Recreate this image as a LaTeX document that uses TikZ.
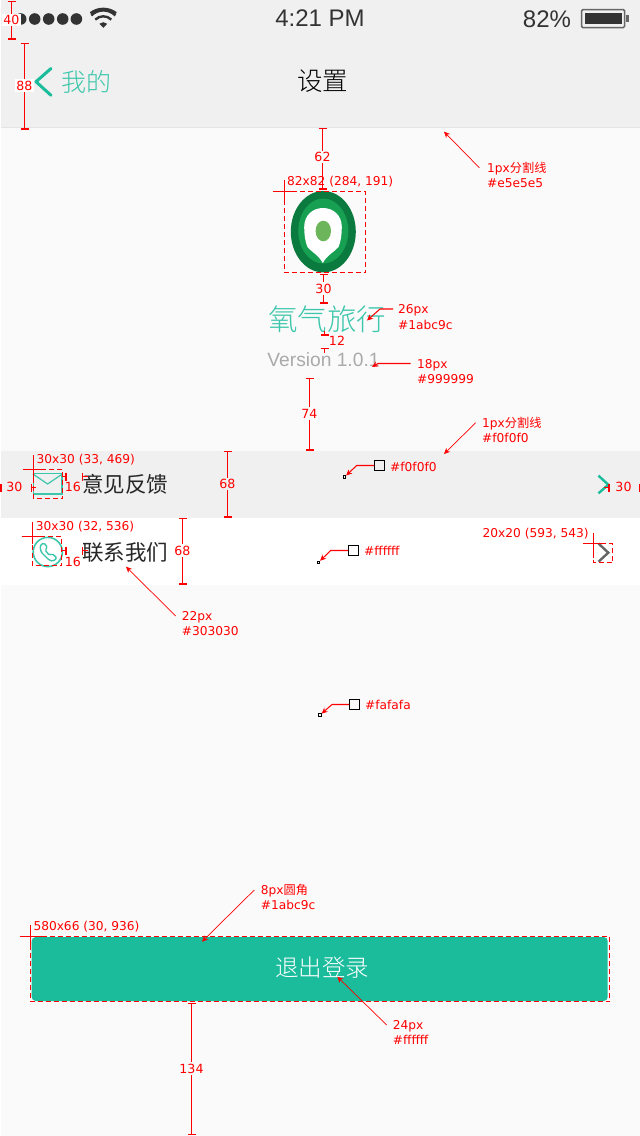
\documentclass[tikz,border=0pt]{standalone}
\usepackage{fontspec}
\usetikzlibrary{arrows.meta}
\setmainfont{DejaVu Sans}
\newfontfamily\cjk{Noto Sans CJK SC}
\newfontfamily\cjklight{Noto Sans CJK SC Light}
\newfontfamily\ui{Liberation Sans}
\definecolor{redm}{HTML}{FF0000}
\definecolor{teal}{HTML}{1ABC9C}
\definecolor{barbg}{HTML}{F0F0F0}
\definecolor{pagebg}{HTML}{FAFAFA}
\definecolor{dark}{HTML}{333333}
\definecolor{logoa}{HTML}{0B7A3E}
\definecolor{logob}{HTML}{18A052}
\definecolor{logoc}{HTML}{6DB55A}
\tikzset{
  x=1pt,y=-1pt,
  note/.style={text=redm,font=\fontsize{12.2}{13}\selectfont,anchor=west,inner sep=0pt},
  dimlabel/.style={text=redm,font=\fontsize{12.6}{13}\selectfont,inner sep=1.5pt},
  dimline/.style={draw=redm,line width=1.05pt,{Bar[width=8pt,line width=1.05pt]}-{Bar[width=8pt,line width=1.05pt]}},
  halfdim/.style={draw=redm,line width=1.05pt,{Bar[width=8pt,line width=1.05pt]}-},
  cross/.style={draw=redm,line width=1.05pt},
  dashbox/.style={draw=redm,line width=1.05pt,dash pattern=on 5pt off 3pt},
  callout/.style={draw=redm,line width=0.7pt,-{Stealth[length=6pt,width=5.5pt]}},
  pickline/.style={draw=redm,line width=1.05pt,-{Stealth[length=6pt,width=5.5pt]}},
  swatch/.style={draw=black,line width=1pt,minimum size=10.5pt,inner sep=0pt},
  pixel/.style={draw=black,line width=0.7pt,minimum size=2.5pt,inner sep=0pt},
  uitext/.style={inner sep=0pt},
}
% \dimv{name}{x}{y1}{y2}{label}{label y}{background}
\newcommand{\dimv}[7]{%
  \coordinate (#1a) at (#2,#3);
  \coordinate (#1b) at (#2,#4);
  \draw[dimline] (#1a) -- (#1b);
  \node[dimlabel,fill=#7] (#1) at (#2,#6) {#5};
}
\begin{document}
\begin{tikzpicture}
\useasboundingbox (0,0) rectangle (640,1136);
% backgrounds
\fill[pagebg] (0,0) rectangle (640,1136);
\fill[barbg] (0,0) rectangle (640,127);
\fill[black!5!barbg] (0,127) rectangle (640,128);
\fill[barbg] (0,451) rectangle (640,517.5);
\fill[white] (0,517.5) rectangle (640,585);
\fill[white] (0,0) rectangle (1,1136);
% status bar
\foreach \i/\cx in {1/20.7,2/34.7,3/48.7,4/62.7,5/76.4}
  \fill[dark] (\cx,19) circle (5.8);
\node[uitext,text=dark,font=\ui\fontsize{24}{24}\selectfont] (time) at (320,18.5) {4:21 PM};
\node[uitext,text=dark,font=\ui\fontsize{24}{24}\selectfont] (batt) at (547,19) {82\%};
\begin{scope}[dark]
  \fill (103.3,27.8) -- (99.4,23.8) arc[start angle=225,end angle=315,radius=5.5] -- cycle;
  \draw[line width=2.4pt] (95.3,19.6) arc[start angle=225,end angle=315,radius=11.3];
  \draw[line width=2.4pt] (91.3,15.4) arc[start angle=225,end angle=315,radius=17];
  \draw[line width=2.4pt] (90.5,13.2) .. controls (98,7.4) and (108.6,7.4) .. (116.1,13.2);
\end{scope}
\draw[draw=black!60,line width=1.5pt,rounded corners=1.5pt] (581.5,9.5) rectangle (624.7,27.7);
\fill[dark] (585,12.7) rectangle (621.7,24.3);
\fill[black!60] (625.5,15) rectangle (629.3,21.7);
% nav bar
\draw[teal,line width=3pt,line cap=round,line join=round] (51,68.5) -- (36,81.7) -- (51,95.3);
\node[uitext,text=teal!85,font=\cjklight\fontsize{25}{25}\selectfont] (back) at (86.7,81.5) {我的};
\node[uitext,text=black,font=\cjklight\fontsize{25.5}{26}\selectfont] (title) at (322.7,81.5) {设置};
% logo
\fill[logoa] (323.3,231.7) ellipse[x radius=32.5,y radius=40.7];
\fill[logob] (323.3,231) ellipse[x radius=25,y radius=32.5];
\fill[white] (322.8,263) .. controls (318.5,255) and (311,251.5) .. (307.5,247)
   .. controls (305,241) and (304.2,234) .. (304.2,227)
   .. controls (304.2,215) and (313,208) .. (323,208)
   .. controls (333,208) and (341.8,215) .. (341.8,227)
   .. controls (341.8,234) and (341,241) .. (338.5,247)
   .. controls (335,251.5) and (327,255) .. cycle;
\fill[logoc] (323.3,231) ellipse[x radius=7.7,y radius=10.3];
\node[uitext,text=teal!85,font=\cjklight\fontsize{29.5}{30}\selectfont] (appname) at (327,319) {氧气旅行};
\node[uitext,text={rgb,255:red,170;green,170;blue,170},font=\ui\fontsize{19.2}{20}\selectfont] (version) at (323.5,359.5) {Version 1.0.1};
% row text
\node[uitext,text=black!85,font=\cjk\fontsize{21.5}{22}\selectfont] (row1) at (125,484) {意见反馈};
\node[uitext,text=black!85,font=\cjk\fontsize{21.5}{22}\selectfont] (row2) at (125,552) {联系我们};
% icons
\draw[teal!85,line width=1.6pt] (33.3,473.6) rectangle (62,494);
\draw[teal!85,line width=1.2pt] (33,474) -- (47.6,484) -- (62.3,474);
\draw[teal!85,line width=1.6pt] (47.8,552) circle (14.6);
\draw[teal!85,line width=1.4pt,rounded corners=1.5pt] (44,542.8) -- (40,545.5) -- (41,552) -- (49,560) -- (53,561.3) -- (57,558) -- (52,553.5) -- (49.5,555.5) -- (45,550) -- (47.5,547.5) -- cycle;
\draw[teal,line width=2.4pt] (598.5,475.7) -- (608.3,484.7) -- (598.5,493.3);
\draw[black!60,line width=2.4pt] (598.5,543.5) -- (608.3,552.7) -- (598.5,561.7);
% button
\node[fill=teal,rounded corners=4pt,minimum width=576pt,minimum height=64pt,inner sep=0pt] (button) at (319.7,969) {};
\node[uitext,text=white,font=\cjklight\fontsize{23.5}{24}\selectfont] (btntext) at (322,968) {退出登录};
% measured boxes
\draw[dashbox] (284.5,191.5) rectangle (365.5,272.5);
\draw[dashbox] (33.5,469.5) rectangle (62.5,498.5);
\draw[dashbox] (32.5,536.5) rectangle (61.5,565.5);
\draw[dashbox] (593.5,543.5) rectangle (612.5,562.5);
\draw[dashbox] (30.5,936.5) rectangle (609.5,1001.5);
% crosshairs
\draw[cross] (273,191.5) -- (295,191.5) (284.5,180) -- (284.5,202);
\draw[cross] (22.5,469.5) -- (44,469.5) (33.5,455) -- (33.5,478);
\draw[cross] (21.5,536.5) -- (43,536.5) (32.5,521.5) -- (32.5,544);
\draw[cross] (582.5,543.5) -- (604,543.5) (593.5,532.5) -- (593.5,558);
\draw[cross] (19.5,936.5) -- (45,936.5) (30.5,925) -- (30.5,948);
% size notes
\node[note] (s1) at (287,182) {82x82 (284, 191)};
\node[note] (s2) at (36.5,459.5) {30x30 (33, 469)};
\node[note] (s3) at (35.7,526.7) {30x30 (32, 536)};
\node[note] (s4) at (482.5,533.7) {20x20 (593, 543)};
\node[note] (s5) at (33.3,926.7) {580x66 (30, 936)};
% vertical dimensions
\dimv{d40}{11.5}{0.5}{39.5}{40}{20}{white}
\dimv{d88}{24.5}{42.5}{129.5}{88}{85.5}{white}
\dimv{d62}{322.5}{127.5}{189.5}{62}{157}{pagebg}
\dimv{d30}{323.5}{273.5}{303.5}{30}{288.5}{pagebg}
\dimv{d74}{309.5}{377.5}{450.5}{74}{413.5}{pagebg}
\dimv{d68a}{227.5}{450.5}{517.5}{68}{484}{barbg}
\dimv{d68b}{182.5}{517.5}{584.5}{68}{550.5}{white}
\dimv{d134}{191.5}{1002.5}{1135}{134}{1068.5}{pagebg}
% 12 split
\coordinate (d12a) at (324.5,335.5);
\coordinate (d12ae) at (324.5,331);
\coordinate (d12b) at (324.5,347.5);
\coordinate (d12be) at (324.5,353);
\draw[halfdim] (d12a) -- (d12ae);
\draw[halfdim] (d12b) -- (d12be);
\node[dimlabel] (d12) at (337,341) {12};
% horizontal dimensions
\coordinate (h1a) at (66.5,476.5); \coordinate (h1ae) at (62,476.5);
\coordinate (h1b) at (81.5,476.5); \coordinate (h1be) at (88,476.5);
\draw[halfdim] (h1a) -- (h1ae); \draw[halfdim] (h1b) -- (h1be);
\node[dimlabel] (h1) at (73,487) {16};
\coordinate (h2a) at (66.5,550.5); \coordinate (h2ae) at (62,550.5);
\coordinate (h2b) at (81.5,550.5); \coordinate (h2be) at (88,550.5);
\draw[halfdim] (h2a) -- (h2ae); \draw[halfdim] (h2b) -- (h2be);
\node[dimlabel] (h2) at (73,561.7) {16};
\coordinate (h3a) at (0.5,487.5); \coordinate (h3ae) at (1.5,487.5);
\coordinate (h3b) at (30.5,487.5); \coordinate (h3be) at (36,487.5);
\draw[halfdim] (h3a) -- (h3ae); \draw[halfdim] (h3b) -- (h3be);
\node[dimlabel] (h3) at (14.5,487.3) {30};
\coordinate (h4a) at (609.5,487.5); \coordinate (h4ae) at (604,487.5);
\coordinate (h4b) at (638.5,487.5); \coordinate (h4be) at (640,487.5);
\draw[halfdim] (h4a) -- (h4ae); \draw[halfdim] (h4b) -- (h4be);
\node[dimlabel] (h4) at (623.5,487.3) {30};
% callouts
\node[note] (c1) at (487,168.5) {1px{\cjk 分割线}};
\node[note] (c1b) at (487,183) {\#e5e5e5};
\coordinate (c1s) at (479.3,167.7); \coordinate (c1t) at (444,131.7);
\draw[callout] (c1s) -- (c1t);
\node[note] (c2) at (398,310) {26px};
\node[note] (c2b) at (398,325) {\#1abc9c};
\coordinate (c2s) at (393,309); \coordinate (c2m) at (380,309); \coordinate (c2t) at (367,320.5);
\draw[pickline] (c2s) -- (c2m) -- (c2t);
\node[note] (c3) at (417,365) {18px};
\node[note] (c3b) at (417,379) {\#999999};
\coordinate (c3s) at (410.5,363.5); \coordinate (c3m) at (378,363.5); \coordinate (c3t) at (372,367);
\draw[pickline] (c3s) -- (c3m) -- (c3t);
\node[note] (c4) at (482,424) {1px{\cjk 分割线}};
\node[note] (c4b) at (482,438) {\#f0f0f0};
\coordinate (c4s) at (475.7,422.7); \coordinate (c4t) at (444,454);
\draw[callout] (c4s) -- (c4t);
\node[note] (c5) at (181.7,617.3) {22px};
\node[note] (c5b) at (181.7,631) {\#303030};
\coordinate (c5s) at (175.7,616); \coordinate (c5t) at (126,566.7);
\draw[callout] (c5s) -- (c5t);
\node[note] (c6) at (260.7,891) {8px{\cjk 圆角}};
\node[note] (c6b) at (260.7,905) {\#1abc9c};
\coordinate (c6s) at (254.3,890); \coordinate (c6t) at (202,941.7);
\draw[callout] (c6s) -- (c6t);
\node[note] (c7) at (392.7,1026.7) {24px};
\node[note] (c7b) at (392.7,1040.3) {\#ffffff};
\coordinate (c7s) at (386.7,1025); \coordinate (c7t) at (337.3,976.7);
\draw[callout] (c7s) -- (c7t);
% colour pickers
\node[swatch] (p1) at (379.5,465.5) {};
\node[pixel] (p1d) at (344.5,477) {};
\node[note] (p1t) at (390,466.7) {\#f0f0f0};
\coordinate (p1s) at (374,465.5); \coordinate (p1m) at (356.7,465.5);
\draw[pickline] (p1s) -- (p1m) -- (p1d);
\node[swatch] (p2) at (353.5,550.5) {};
\node[pixel] (p2d) at (318.5,562.3) {};
\node[note] (p2t) at (364,551.3) {\#ffffff};
\coordinate (p2s) at (348,550.5); \coordinate (p2m) at (330.7,550.5);
\draw[pickline] (p2s) -- (p2m) -- (p2d);
\node[swatch] (p3) at (354.5,704.5) {};
\node[pixel] (p3d) at (320,715) {};
\node[note] (p3t) at (365,705) {\#fafafa};
\coordinate (p3s) at (349,704.5); \coordinate (p3m) at (332,704.5);
\draw[pickline] (p3s) -- (p3m) -- (p3d);
\end{tikzpicture}
\end{document}
